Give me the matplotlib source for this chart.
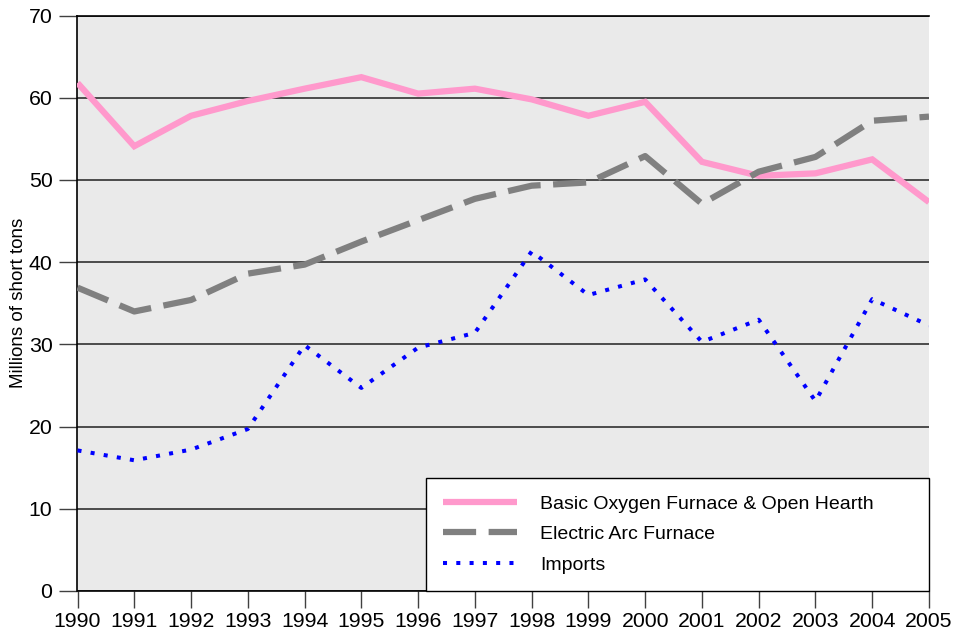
import matplotlib
matplotlib.use("Agg")
import matplotlib.pyplot as plt

# --- Donnees ---
annees = list(range(1990, 2006))
bof = [61.8, 54.1, 57.8, 59.6, 61.1, 62.5, 60.5, 61.1, 59.8, 57.8, 59.5,
       52.2, 50.5, 50.8, 52.5, 47.3]
eaf = [36.9, 34.0, 35.4, 38.6, 39.7, 42.5, 45.1, 47.7, 49.3, 49.7, 52.9,
       47.1, 51.0, 52.8, 57.2, 57.7]
imports = [17.1, 15.9, 17.2, 19.7, 29.9, 24.7, 29.6, 31.4, 41.3, 36.0, 37.9,
           30.3, 33.0, 23.1, 35.5, 32.3]

labels = ["Basic Oxygen Furnace & Open Hearth", "Electric Arc Furnace", "Imports"]
yticks = [0, 10, 20, 30, 40, 50, 60, 70]

plt.rcParams["font.family"] = ["Liberation Sans", "DejaVu Sans"]

fig = plt.figure(figsize=(9.54, 6.37), dpi=100)
ax = fig.add_axes([77.5 / 954, 1 - 591 / 637, (929 - 77.5) / 954, (591 - 15.5) / 637])
ax.set_facecolor("#EAEAEA")

ax.plot(annees, bof, color="#FF99CC", lw=4.5, solid_capstyle="butt",
        solid_joinstyle="miter", label=labels[0], zorder=3)
ax.plot(annees, eaf, color="#808080", lw=4.5, dashes=(5.3, 2.0),
        dash_capstyle="butt", label=labels[1], zorder=3)
ax.plot(annees, imports, color="#0000FF", lw=2.9, dashes=(1.0, 2.3),
        dash_capstyle="butt", label=labels[2], zorder=3)

ax.set_xlim(1990, 2005)
ax.set_ylim(0, 70)
ax.set_xticks(annees)
ax.set_xticklabels([str(a) for a in annees], fontsize=15.3)
ax.set_yticks(yticks)
ax.set_yticklabels([str(v) for v in yticks], fontsize=15.3)
ax.tick_params(axis="y", length=13, width=1, color="#404040", pad=5)
ax.tick_params(axis="x", length=12, width=1, color="#404040", pad=3)

ax.grid(axis="y", color="#202020", lw=1.1, zorder=1)
ax.set_axisbelow(True)
for s in ["top", "right"]:
    ax.spines[s].set_visible(False)
ax.spines["left"].set_color("black")
ax.spines["bottom"].set_color("black")
ax.spines["left"].set_linewidth(1.2)
ax.spines["bottom"].set_linewidth(1.2)
# ligne du haut (70) comme une grille
ax.axhline(70, color="black", lw=1.2, clip_on=False)

ax.set_ylabel("Millions of short tons", fontsize=13.5, labelpad=1)

# legende etiree sur la largeur de la boite d'origine
leg = ax.legend(loc="lower left", bbox_to_anchor=(0.409, 0.0, 0.591, 0.195),
                mode="expand", fontsize=14, frameon=True, fancybox=False,
                edgecolor="black", framealpha=1, borderpad=0.9,
                handlelength=3.8, handletextpad=1.2, labelspacing=0.65,
                borderaxespad=0)
leg.get_frame().set_linewidth(1.0)

fig.savefig("out.png", dpi=100)
